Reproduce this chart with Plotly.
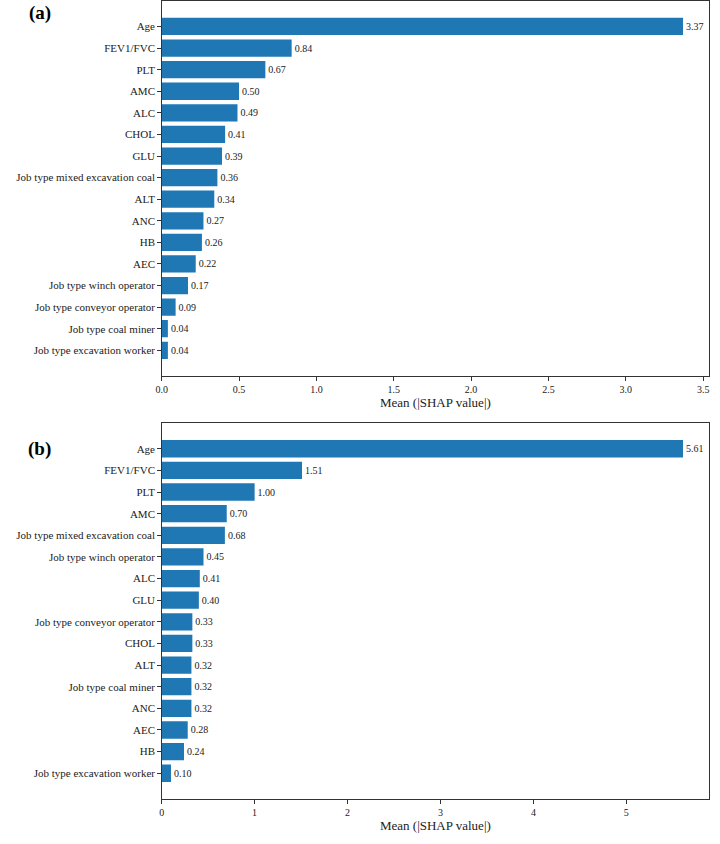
import plotly.graph_objects as go
from plotly.subplots import make_subplots

a_labels = ["Age", "FEV1/FVC", "PLT", "AMC", "ALC", "CHOL", "GLU",
            "Job type mixed excavation coal", "ALT", "ANC", "HB", "AEC",
            "Job type winch operator", "Job type conveyor operator",
            "Job type coal miner", "Job type excavation worker"]
a_values = [3.37, 0.84, 0.67, 0.50, 0.49, 0.41, 0.39, 0.36, 0.34, 0.27,
            0.26, 0.22, 0.17, 0.09, 0.04, 0.04]

b_labels = ["Age", "FEV1/FVC", "PLT", "AMC", "Job type mixed excavation coal",
            "Job type winch operator", "ALC", "GLU", "Job type conveyor operator",
            "CHOL", "ALT", "Job type coal miner", "ANC", "AEC", "HB",
            "Job type excavation worker"]
b_values = [5.61, 1.51, 1.00, 0.70, 0.68, 0.45, 0.41, 0.40, 0.33, 0.33,
            0.32, 0.32, 0.32, 0.28, 0.24, 0.10]

a_ticks = [0.0, 0.5, 1.0, 1.5, 2.0, 2.5, 3.0, 3.5]
a_ticktext = ["0.0", "0.5", "1.0", "1.5", "2.0", "2.5", "3.0", "3.5"]
b_ticks = [0, 1, 2, 3, 4, 5]
b_ticktext = ["0", "1", "2", "3", "4", "5"]

BAR = "#1f77b4"
FONT = "Liberation Serif, Times New Roman, serif"

fig = make_subplots(rows=2, cols=1)

for row, labels, values in [(1, a_labels, a_values), (2, b_labels, b_values)]:
    fig.add_trace(go.Bar(
        x=values, y=labels, orientation="h", width=0.8,
        marker=dict(color=BAR, line=dict(width=0)),
        texttemplate="%{x:.2f}", textposition="outside",
        textfont=dict(family=FONT, size=10, color="#222"),
        cliponaxis=False, showlegend=False), row=row, col=1)

n = len(a_labels)
yrange = [-0.4 - 0.79, n - 1 + 0.4 + 0.79]

axis_common = dict(showline=True, linecolor="#333", linewidth=1, mirror=True,
                   ticks="outside", ticklen=3.5, tickwidth=0.8, tickcolor="#333",
                   showgrid=False, zeroline=False,
                   tickfont=dict(family=FONT, size=11, color="#222"))

xdom = [157 / 720, 709 / 720]
fig.update_layout(
    width=720, height=844, margin=dict(l=0, r=0, t=0, b=0),
    plot_bgcolor="white", paper_bgcolor="white", bargap=0.2,
    xaxis=dict(domain=xdom, range=[0, max(a_values) * 1.05],
               tickvals=a_ticks, ticktext=a_ticktext,
               title=dict(text="Mean (|SHAP value|)", standoff=4,
                          font=dict(family=FONT, size=13, color="#222")),
               **axis_common),
    yaxis=dict(domain=[1 - 376 / 844, 1 - 0.8 / 844],
               categoryorder="array", categoryarray=a_labels[::-1],
               range=yrange, **axis_common),
    xaxis2=dict(domain=xdom, range=[0, max(b_values) * 1.05],
                tickvals=b_ticks, ticktext=b_ticktext,
                title=dict(text="Mean (|SHAP value|)", standoff=4,
                           font=dict(family=FONT, size=13, color="#222")),
                **axis_common),
    yaxis2=dict(domain=[1 - 799 / 844, 1 - 423 / 844],
                categoryorder="array", categoryarray=b_labels[::-1],
                range=yrange, **axis_common),
)
fig.update_xaxes(tickfont=dict(size=10))

fig.add_annotation(text="<b>(a)</b>", x=34 / 720, y=1 - 13 / 844, xref="paper", yref="paper",
                   showarrow=False, xanchor="center", yanchor="middle",
                   font=dict(family=FONT, size=19, color="black"))
fig.add_annotation(text="<b>(b)</b>", x=34 / 720, y=1 - 449 / 844, xref="paper", yref="paper",
                   showarrow=False, xanchor="center", yanchor="middle",
                   font=dict(family=FONT, size=19, color="black"))

fig.write_html("out.html")
